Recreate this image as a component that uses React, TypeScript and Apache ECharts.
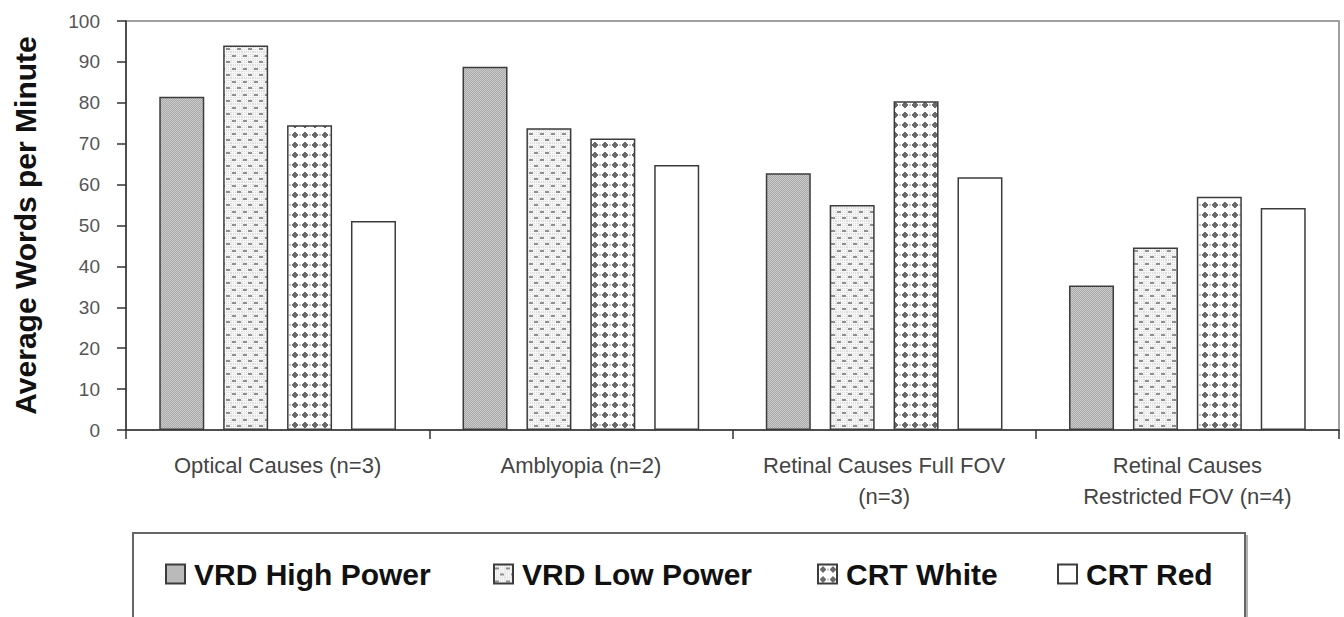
import React, { useEffect, useRef } from "react";
import * as echarts from "echarts";

const categories = [
  "Optical Causes (n=3)",
  "Amblyopia (n=2)",
  "Retinal Causes Full FOV\n(n=3)",
  "Retinal Causes\nRestricted FOV (n=4)",
];
const seriesNames = ["VRD High Power", "VRD Low Power", "CRT White", "CRT Red"];
const vrdHigh = [81.5, 88.8, 62.8, 35.3];
const vrdLow = [94.0, 73.8, 55.0, 44.6];
const crtWhite = [74.5, 71.3, 80.4, 57.0];
const crtRed = [51.1, 64.8, 61.8, 54.3];
const yTicks = { min: 0, max: 100, interval: 10 };

function makeTile(w: number, h: number, draw: (c: CanvasRenderingContext2D) => void) {
  const cv = document.createElement("canvas");
  cv.width = w;
  cv.height = h;
  const ctx = cv.getContext("2d")!;
  draw(ctx);
  return { image: cv, repeat: "repeat", imageWidth: w, imageHeight: h } as any;
}

export default function App() {
  const ref = useRef<HTMLDivElement>(null);
  useEffect(() => {
    if (!ref.current) return;
    const chart = echarts.init(ref.current, null, { renderer: "svg" });

    const highFill = makeTile(2, 2, (c) => {
      c.fillStyle = "#a9a9a9";
      c.fillRect(0, 0, 2, 2);
      c.fillStyle = "#cbcbcb";
      c.fillRect(0, 0, 1, 1);
      c.fillRect(1, 1, 1, 1);
    });
    const lowFill = makeTile(11, 13, (c) => {
      c.fillStyle = "#f7f7f7";
      c.fillRect(0, 0, 11, 13);
      c.fillStyle = "#dcdcdc";
      for (let x = 0; x < 11; x += 2) for (let y = 0; y < 13; y += 2) c.fillRect(x, y, 1, 1);
      c.fillStyle = "#8f8f8f";
      c.fillRect(1, 3, 4, 2);
      c.fillRect(6, 9, 4, 2);
    });
    const whiteFill = makeTile(10, 10, (c) => {
      c.fillStyle = "#ffffff";
      c.fillRect(0, 0, 10, 10);
      c.fillStyle = "#6a6a6a";
      c.fillRect(3, 3, 4, 4);
      c.fillRect(2, 4, 6, 2);
      c.fillRect(4, 2, 2, 6);
      c.fillStyle = "#c8c8c8";
      c.fillRect(0, 4, 1, 2);
      c.fillRect(9, 4, 1, 2);
    });
    const redFill = "#ffffff";

    const fills = [highFill, lowFill, whiteFill, redFill];
    const values = [vrdHigh, vrdLow, crtWhite, crtRed];
    const font = "'Liberation Sans', Arial, sans-serif";
    const legendLefts = [165, 493, 817, 1057];

    chart.setOption({
      animation: false,
      backgroundColor: "#ffffff",
      textStyle: { fontFamily: font },
      grid: {
        left: 126,
        right: 5,
        top: 21,
        bottom: 187,
        show: true,
        borderColor: "#a0a0a0",
        borderWidth: 2,
      },
      xAxis: {
        type: "category",
        data: categories,
        axisLine: { show: true, lineStyle: { color: "#333", width: 1.5 } },
        axisTick: { show: true, interval: 0, length: 9, lineStyle: { color: "#333", width: 1.5 } },
        axisLabel: {
          interval: 0,
          fontSize: 22,
          color: "#444",
          margin: 20,
          lineHeight: 31,
          fontFamily: font,
        },
      },
      yAxis: {
        type: "value",
        min: yTicks.min,
        max: yTicks.max,
        interval: yTicks.interval,
        name: "Average Words per Minute",
        nameLocation: "middle",
        nameGap: 86,
        nameTextStyle: { fontSize: 30, fontWeight: "bold", color: "#111", fontFamily: font },
        axisLine: { show: true, lineStyle: { color: "#333", width: 1.5 } },
        axisTick: { show: true, length: 9, lineStyle: { color: "#333", width: 1.5 } },
        splitLine: { show: false },
        axisLabel: { fontSize: 19, color: "#555", margin: 26, fontFamily: font },
      },
      legend: seriesNames.map((n, i) => ({
        data: [n],
        left: legendLefts[i],
        top: 559,
        padding: 0,
        icon: "rect",
        itemWidth: 19,
        itemHeight: 19,
        textStyle: { fontSize: 30, fontWeight: "bold", color: "#111", fontFamily: font, padding: [0, 0, 0, 4] },
      })),
      graphic: [
        {
          type: "rect",
          shape: { x: 133, y: 533, width: 1112, height: 130 },
          style: { fill: "none", stroke: "#666", lineWidth: 2 },
          silent: true,
        },
        {
          type: "line",
          shape: { x1: 1247, y1: 535, x2: 1247, y2: 617 },
          style: { stroke: "#b0b0b0", lineWidth: 2 },
          silent: true,
        },
      ],
      series: seriesNames.map((n, i) => ({
        name: n,
        type: "bar",
        data: values[i],
        barWidth: 45,
        barGap: "42%",
        itemStyle: { color: fills[i], borderColor: "#3c3c3c", borderWidth: 1.5 },
      })),
    });
    return () => chart.dispose();
  }, []);
  return <div ref={ref} style={{ width: 1344, height: 617, position: "absolute", left: 0, top: 0 }} />;
}
